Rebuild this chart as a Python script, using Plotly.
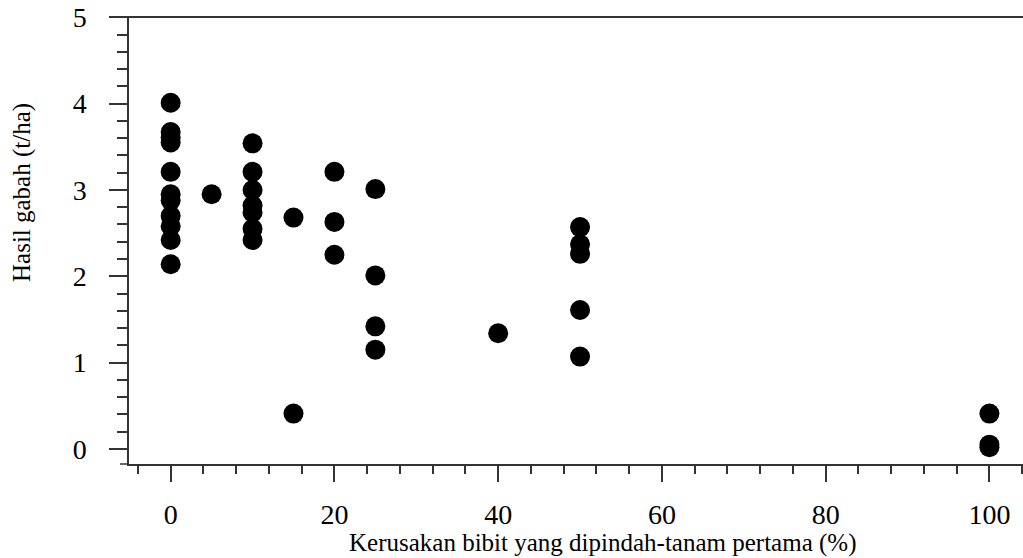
import plotly.graph_objects as go

# Data
damage_pct = [0, 0, 0, 0, 0, 0, 0, 0, 0, 0, 0,
              5,
              10, 10, 10, 10, 10, 10, 10,
              15, 15,
              20, 20, 20,
              25, 25, 25, 25,
              40,
              50, 50, 50, 50, 50,
              100, 100, 100]
yield_tha = [4.01, 3.67, 3.61, 3.55, 3.21, 2.95, 2.88, 2.70, 2.58, 2.42, 2.14,
             2.95,
             3.54, 3.21, 3.00, 2.82, 2.74, 2.55, 2.42,
             2.68, 0.41,
             3.21, 2.63, 2.25,
             3.01, 2.01, 1.42, 1.15,
             1.34,
             2.57, 2.37, 2.26, 1.61, 1.07,
             0.41, 0.05, 0.02]

x_ticks = [0, 20, 40, 60, 80, 100]
y_ticks = [0, 1, 2, 3, 4, 5]
x_title = "Kerusakan bibit yang dipindah-tanam pertama (%)"
y_title = "Hasil gabah (t/ha)"

FONT = "Liberation Serif, Times New Roman, serif"
LINE = "#333333"

fig = go.Figure()
fig.add_trace(go.Scatter(
    x=damage_pct, y=yield_tha, mode="markers",
    marker=dict(color="black", size=20, symbol="circle", line=dict(width=0)),
    showlegend=False, cliponaxis=False, hoverinfo="skip",
))

W, H = 1023, 558
ML, MR, MT, MB = 129, 0, 17, 558 - 464
pw = W - ML - MR
ph = H - MT - MB


def px_x(sx):
    return (sx - ML) / pw


def px_y(sy):
    return (MT + ph - sy) / ph


fig.update_layout(
    width=W, height=H,
    margin=dict(l=ML, r=MR, t=MT, b=MB, pad=0),
    paper_bgcolor="white", plot_bgcolor="white",
    font=dict(family=FONT, color="black"),
    xaxis=dict(
        range=[-5.09, 104.1], tickmode="array", tickvals=x_ticks,
        ticktext=[str(v) for v in x_ticks],
        ticks="outside", ticklen=16, tickwidth=1.5, tickcolor=LINE,
        showline=True, linecolor=LINE, linewidth=1.5,
        showgrid=False, zeroline=False,
        tickfont=dict(family=FONT, size=28, color="black"),
        ticklabelstandoff=9, ticklabeloverflow="allow",
        minor=dict(dtick=4, tick0=0, ticks="outside", ticklen=8,
                   tickwidth=1.5, tickcolor=LINE, showgrid=False),
    ),
    yaxis=dict(
        range=[-0.174, 5.003], tickmode="array", tickvals=y_ticks,
        ticktext=[str(v) for v in y_ticks],
        ticks="outside", ticklen=18, tickwidth=1.5, tickcolor=LINE,
        showline=True, linecolor=LINE, linewidth=1.5,
        showgrid=False, zeroline=False,
        tickfont=dict(family=FONT, size=28, color="black"),
        ticklabelstandoff=17, ticklabeloverflow="allow",
        minor=dict(dtick=0.2, tick0=0, ticks="outside", ticklen=10,
                   tickwidth=1.5, tickcolor=LINE, showgrid=False),
    ),
    shapes=[
        dict(type="line", xref="paper", yref="paper",
             x0=-18 / pw, x1=1, y0=1, y1=1,
             line=dict(color=LINE, width=2)),
        dict(type="line", xref="paper", yref="paper",
             x0=-9 / pw, x1=0, y0=0, y1=0,
             line=dict(color=LINE, width=1.5)),
    ],
    annotations=[
        dict(text=x_title, xref="paper", yref="paper",
             x=px_x(602), y=px_y(543),
             xanchor="center", yanchor="middle", showarrow=False,
             font=dict(family=FONT, size=25, color="black")),
        dict(text=y_title, xref="paper", yref="paper",
             x=px_x(22), y=px_y(193), textangle=-90,
             xanchor="center", yanchor="middle", showarrow=False,
             font=dict(family=FONT, size=25, color="black")),
    ],
)

fig.write_html(
    "out.html",
    config={"displayModeBar": False},
    post_script="document.body.style.margin='0';document.body.style.overflow='hidden';",
)
